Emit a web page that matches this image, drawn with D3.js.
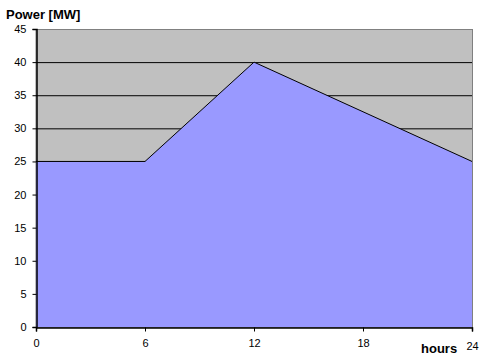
<!DOCTYPE html>
<html>
<head>
<meta charset="utf-8">
<script src="https://cdn.jsdelivr.net/npm/d3@7"></script>
<style>
  body { margin: 0; background: #fff; }
  text { font-family: Arial, "Liberation Sans", sans-serif; }
</style>
</head>
<body>
<svg id="chart" width="485" height="362"></svg>
<script>
// data
const hours = [0, 6, 12, 18, 24];
const power = [25, 25, 40, 32.5, 25];
const xTicks = [0, 6, 12, 18, 24];
const yTicks = [0, 5, 10, 15, 20, 25, 30, 35, 40, 45];

const svg = d3.select("#chart");
const plotLeft = 36, plotRight = 472, plotTop = 29, plotBottom = 327;

const x = d3.scaleLinear().domain([0, 24]).range([plotLeft, plotRight]);
const y = d3.scaleLinear().domain([0, 45]).range([plotBottom, plotTop]);

// plot background
svg.append("rect")
  .attr("x", plotLeft).attr("y", plotTop + 0.5)
  .attr("width", plotRight - plotLeft + 0.5).attr("height", plotBottom - plotTop)
  .attr("fill", "#c0c0c0")
  .attr("stroke", "#808080");

// gridlines
svg.append("g")
  .selectAll("line")
  .data(yTicks.filter(d => d > 0 && d < 45))
  .join("line")
  .attr("x1", plotLeft).attr("x2", plotRight)
  .attr("y1", d => y(d) + 0.5).attr("y2", d => y(d) + 0.5)
  .attr("stroke", "#000");

const pts = hours.map((h, i) => [h, power[i]]);

svg.append("path")
  .datum(pts)
  .attr("fill", "#9999ff")
  .attr("d", d3.area().x(d => x(d[0])).y0(y(0)).y1(d => y(d[1])));

svg.append("path")
  .datum(pts)
  .attr("fill", "none")
  .attr("stroke", "#000")
  .attr("stroke-width", 1)
  .attr("d", d3.line().x(d => x(d[0])).y(d => y(d[1])));

// axes
const yAxis = svg.append("g")
  .attr("transform", `translate(${plotLeft + 0.5},0)`)
  .call(d3.axisLeft(y).tickValues(yTicks).tickSize(4).tickPadding(6));
const xAxis = svg.append("g")
  .attr("transform", `translate(0,${plotBottom + 0.5})`)
  .call(d3.axisBottom(x).tickValues(xTicks).tickSize(4).tickPadding(8));

[yAxis, xAxis].forEach(g => {
  g.select(".domain").attr("stroke", "#000").attr("stroke-width", 1.5);
  g.selectAll(".tick line").attr("stroke", "#000");
  g.selectAll("text").attr("font-size", 11).attr("fill", "#000")
    .attr("font-family", "Arial, 'Liberation Sans', sans-serif");
});
// the last x label sits a bit lower, next to the axis title
xAxis.selectAll(".tick").filter(d => d === 24).select("text").attr("dy", "0.95em");

// titles
svg.append("text")
  .attr("x", 6).attr("y", 19)
  .attr("font-size", 13).attr("font-weight", "bold")
  .text("Power [MW]");

svg.append("text")
  .attr("x", 421).attr("y", 353)
  .attr("font-size", 13).attr("font-weight", "bold")
  .text("hours");
</script>
</body>
</html>
